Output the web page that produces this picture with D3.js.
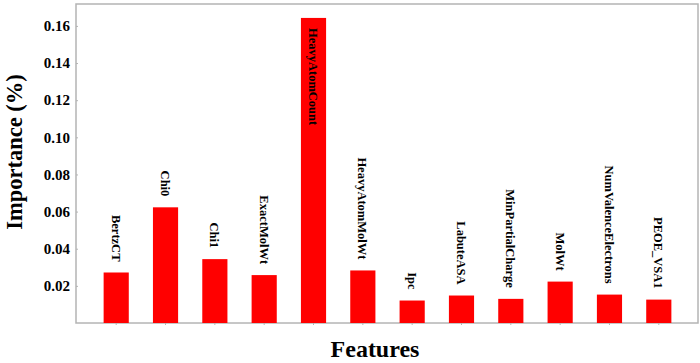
<!DOCTYPE html>
<html>
<head>
<meta charset="utf-8">
<script src="https://cdn.jsdelivr.net/npm/d3@7"></script>
<style>
  body { margin: 0; background: #fff; }
  text { font-family: "Liberation Serif", "Times New Roman", serif; font-weight: bold; }
</style>
</head>
<body>
<script>
var features = ["BertzCT", "Chi0", "Chi1", "ExactMolWt", "HeavyAtomCount", "HeavyAtomMolWt",
    "Ipc", "LabuteASA", "MinPartialCharge", "MolWt", "NumValenceElectrons", "PEOE_VSA1"];
var importance = [0.0272, 0.0623, 0.0344, 0.0258, 0.1643, 0.0283,
    0.0121, 0.0148, 0.0130, 0.0223, 0.0153, 0.0126];
var yTicks = [0.02, 0.04, 0.06, 0.08, 0.10, 0.12, 0.14, 0.16];

var width = 700,
    height = 363,
    margin = {top: 4, right: 1, bottom: 40, left: 76};

var svg = d3.select("body")
    .append("svg")
    .attr("width", width)
    .attr("height", height);

var x = d3.scaleBand()
    .domain(features)
    .range([margin.left, width - margin.right])
    .paddingInner(0.49)
    .paddingOuter(0.56);

var y = d3.scaleLinear()
    .domain([0, 0.1718])
    .range([height - margin.bottom, margin.top]);

// frame
svg.append("rect")
    .attr("x", margin.left)
    .attr("y", margin.top)
    .attr("width", width - margin.right - margin.left - 1)
    .attr("height", height - margin.bottom - margin.top)
    .attr("fill", "none")
    .attr("stroke", "#b4b4b4")
    .attr("stroke-width", 1.5);

// y axis
var yAxis = svg.append("g")
    .attr("transform", "translate(" + margin.left + ",0)")
    .call(d3.axisLeft(y).tickValues(yTicks).tickFormat(d3.format(".2f")).tickSize(-2).tickPadding(6));
yAxis.select(".domain").remove();
yAxis.selectAll(".tick line").attr("stroke", "#b4b4b4");
yAxis.selectAll(".tick text")
    .attr("fill", "#000")
    .style("font-size", "15px")
    .style("font-family", "Liberation Serif, serif")
    .style("font-weight", "bold");

// x axis ticks
var xAxis = svg.append("g")
    .attr("transform", "translate(0," + (height - margin.bottom) + ")")
    .call(d3.axisBottom(x).tickSize(2).tickFormat(""));
xAxis.select(".domain").remove();
xAxis.selectAll(".tick line").attr("stroke", "#b4b4b4");

// bars
svg.selectAll(".bar")
    .data(importance)
    .enter().append("rect")
    .attr("class", "bar")
    .attr("x", function(d, i) { return x(features[i]); })
    .attr("y", function(d) { return y(d); })
    .attr("width", x.bandwidth())
    .attr("height", function(d) { return y(0) - y(d); })
    .attr("fill", "#ff0000");

// bar labels, rotated
svg.selectAll(".lbl")
    .data(importance)
    .enter().append("text")
    .attr("class", "lbl")
    .attr("transform", function(d, i) {
        var cx = x(features[i]) + x.bandwidth() / 2;
        var inside = d > 0.1;
        var ty = inside ? y(d) + 10 : y(d) - 11;
        return "translate(" + cx + "," + ty + ") rotate(90)";
    })
    .attr("dy", "0.35em")
    .attr("text-anchor", function(d) { return d > 0.1 ? "start" : "end"; })
    .style("font-size", "12.5px")
    .text(function(d, i) { return features[i]; });

// axis titles
svg.append("text")
    .attr("transform", "translate(22," + 152 + ") rotate(-90)")
    .attr("text-anchor", "middle")
    .style("font-size", "22.5px")
    .text("Importance (%)");

svg.append("text")
    .attr("x", 375)
    .attr("y", 357)
    .attr("text-anchor", "middle")
    .style("font-size", "24px")
    .text("Features");
</script>
</body>
</html>
